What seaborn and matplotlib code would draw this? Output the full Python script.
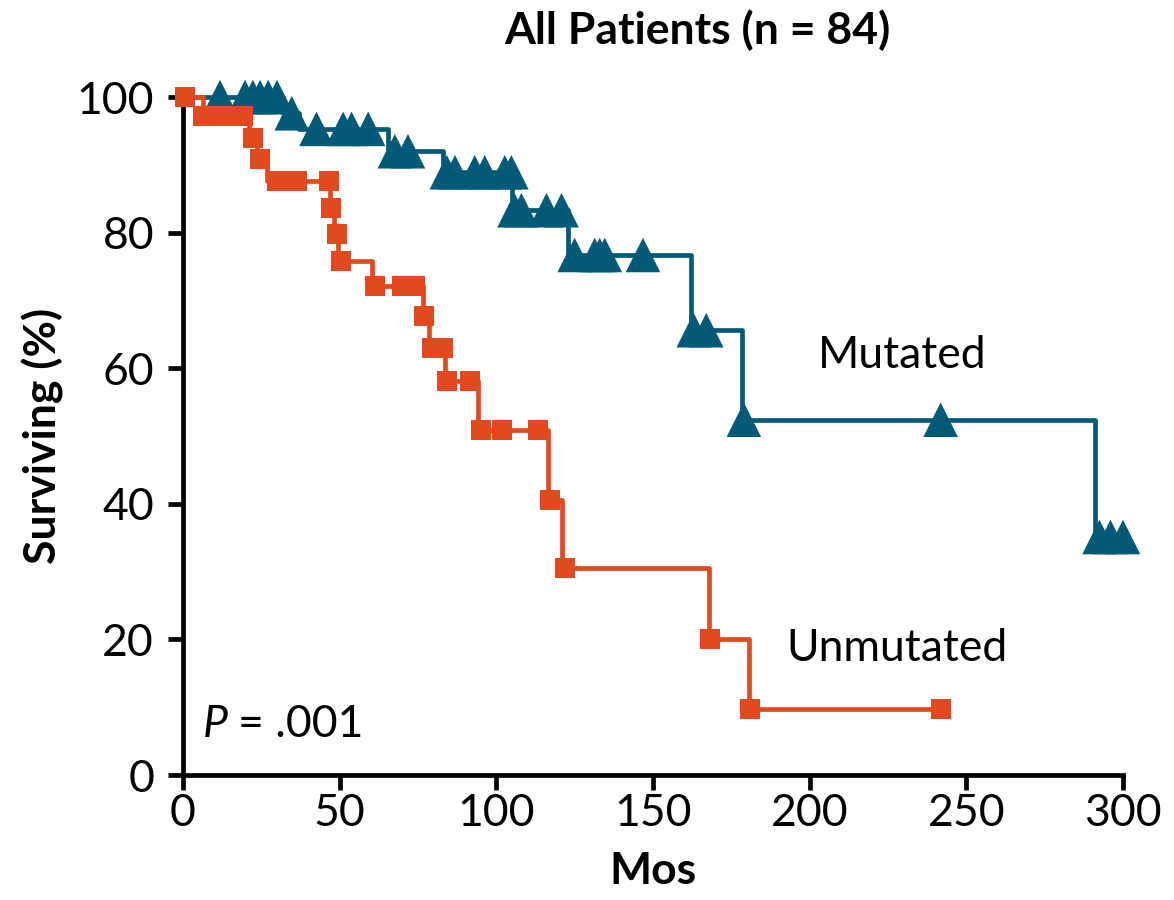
import matplotlib
matplotlib.use("Agg")
import matplotlib.pyplot as plt
import seaborn as sns

sns.set_style("ticks")
plt.rcParams["font.family"] = ["Lato", "DejaVu Sans"]
plt.rcParams["text.color"] = "black"
plt.rcParams["axes.labelcolor"] = "black"

TEAL = "#035A78"
ORANGE = "#E14A1E"
FS = 32

# Kaplan-Meier step curves (months, % surviving)
mut_step_t = [0, 32, 37, 65.4, 83, 105, 123, 162, 178.3, 291, 300]
mut_step_s = [100, 97.6, 95.3, 92.0, 88.9, 83.3, 76.7, 65.6, 52.4, 35.1, 35.1]

unm_step_t = [0, 6.4, 21, 23.5, 26.8, 47.0, 48.3, 49.6, 60.2, 76.5, 78.5, 83.5,
              94.0, 116.4, 120.8, 168, 180.6, 241.8]
unm_step_s = [100, 97.2, 94.0, 90.9, 87.6, 83.6, 79.8, 75.8, 72.1, 67.7, 63.0, 58.1,
              50.9, 40.6, 30.5, 20.1, 9.7, 9.7]

# point markers (months, % surviving)
mut_mark_t = [11.8, 19.8, 22.3, 24.6, 27.2, 30.0, 34.7, 42.6, 51.1, 53.8, 59.1,
              67.6, 71.8, 84.2, 86.8, 93.1, 96.3, 102.7, 104.8, 105.8, 108, 116, 120.8,
              125, 131.4, 133, 134.6, 146.8, 163, 167, 179, 241.8, 292.5, 296, 300]
mut_mark_s = [100, 100, 100, 100, 100, 100, 97.6, 95.3, 95.3, 95.3, 95.3,
              92.0, 92.0, 88.9, 88.9, 88.9, 88.9, 88.9, 88.9, 83.3, 83.3, 83.3, 83.3,
              76.7, 76.7, 76.7, 76.7, 76.7, 65.6, 65.6, 52.4, 52.4, 35.1, 35.1, 35.1]

unm_mark_t = [0.6, 6.4, 10.2, 13.4, 16.6, 19.1, 22.3, 24.6, 30.0, 33.2, 36.4, 46.6,
              47.2, 49.1, 50.3, 61.2, 69.9, 74.0, 76.9, 79.4, 82.9, 84.2, 91.5,
              95.0, 101.8, 113.2, 117.0, 121.8, 168.3, 181.0, 241.8]
unm_mark_s = [100, 97.2, 97.2, 97.2, 97.2, 97.2, 94.0, 90.9, 87.6, 87.6, 87.6, 87.6,
              83.6, 79.8, 75.8, 72.1, 72.1, 72.1, 67.7, 63.0, 63.0, 58.1, 58.1,
              50.9, 50.9, 50.9, 40.6, 30.5, 20.1, 9.7, 9.7]

fig = plt.figure(figsize=(11.74, 9), dpi=100)
ax = fig.add_axes([183 / 1174, 1 - 775 / 900, 940 / 1174, 678 / 900])

sns.lineplot(x=mut_step_t, y=mut_step_s, drawstyle="steps-post", color=TEAL,
             linewidth=3.4, ax=ax, clip_on=False)
sns.lineplot(x=unm_step_t, y=unm_step_s, drawstyle="steps-post", color=ORANGE,
             linewidth=3.4, ax=ax, clip_on=False)
sns.scatterplot(x=mut_mark_t, y=mut_mark_s, marker="^", s=620, color=TEAL,
                edgecolor="none", ax=ax, clip_on=False, zorder=3)
sns.scatterplot(x=unm_mark_t, y=unm_mark_s, marker="s", s=210, color=ORANGE,
                edgecolor="none", ax=ax, clip_on=False, zorder=3)

ax.set_xlim(0, 300)
ax.set_ylim(0, 100)
ax.set_xticks(range(0, 301, 50))
ax.set_yticks(range(0, 101, 20))
sns.despine(ax=ax)
for side in ("left", "bottom"):
    ax.spines[side].set_linewidth(3.4)
    ax.spines[side].set_color("black")
ax.tick_params(axis="both", direction="out", length=10.8, width=3.4,
               labelsize=FS, colors="black")
ax.tick_params(axis="x", pad=2)
ax.tick_params(axis="y", pad=10)

ax.set_xlabel("Mos", fontsize=FS, fontweight="bold")
ax.set_ylabel("Surviving (%)", fontsize=FS, fontweight="bold")
ax.xaxis.set_label_coords(0.5, -0.112)
ax.yaxis.set_label_coords(-0.127, 0.5)

ax.text(202.7, 61.8, "Mutated", fontsize=FS, va="center", ha="left")
ax.text(192.5, 18.7, "Unmutated", fontsize=FS, va="center", ha="left")
ax.text(6.4, 7.5, "P", fontsize=FS, va="center", ha="left", style="italic")
ax.text(17.5, 7.5, "= .001", fontsize=FS, va="center", ha="left")

fig.text(697 / 1174, 1 - 30 / 900, "All Patients (n = 84)", fontsize=FS,
         fontweight="bold", ha="center", va="center")

fig.savefig("out.png", dpi=100, facecolor="white")
